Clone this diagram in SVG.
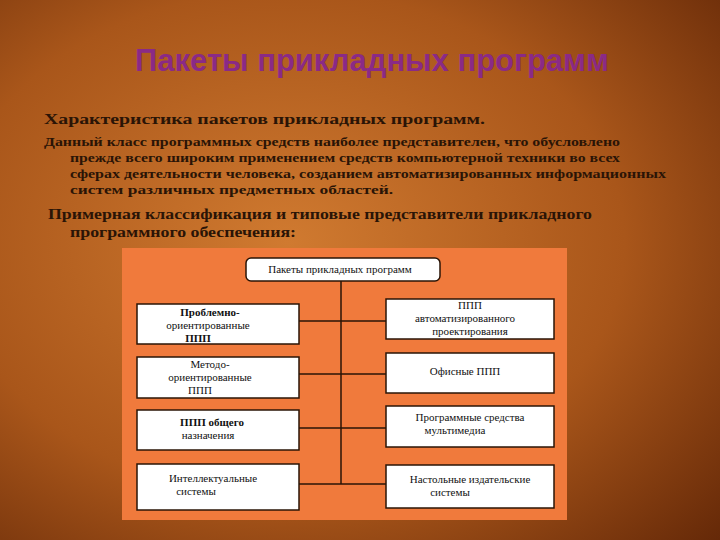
<svg xmlns="http://www.w3.org/2000/svg" width="720" height="540" viewBox="0 0 720 540">
<defs>
<radialGradient id="bg" cx="0.4" cy="0.45" r="0.85">
<stop offset="0" stop-color="#d07a30"/><stop offset="0.55" stop-color="#a9561a"/><stop offset="1" stop-color="#5e2406"/>
</radialGradient>
<style>
.t{font-family:"Liberation Serif",serif;font-weight:bold;fill:#2a1406}
.b{fill:#fff;stroke:#2a1406;stroke-width:1.5}
.n{font-family:"Liberation Serif",serif;font-size:11px;fill:#111;text-anchor:middle}
.c{stroke:#2a1406;stroke-width:1.5;fill:none}
</style>
</defs>
<rect width="720" height="540" fill="url(#bg)"/>
<text x="372" y="71" text-anchor="middle" font-family="Liberation Sans,sans-serif" font-weight="bold" font-size="31" fill="#8a2a86">Пакеты прикладных программ</text>
<text class="t" x="44" y="124" font-size="15" textLength="441" lengthAdjust="spacingAndGlyphs">Характеристика пакетов прикладных программ.</text>
<g class="t" font-size="13">
<text x="44" y="146" textLength="576" lengthAdjust="spacingAndGlyphs">Данный класс программных средств наиболее представителен, что обусловлено</text>
<text x="70" y="162" textLength="550" lengthAdjust="spacingAndGlyphs">прежде всего широким применением средств компьютерной техники во всех</text>
<text x="70" y="178" textLength="596" lengthAdjust="spacingAndGlyphs">сферах деятельности человека, созданием автоматизированных информационных</text>
<text x="70" y="194" textLength="323" lengthAdjust="spacingAndGlyphs">систем различных предметных областей.</text>
</g>
<g class="t" font-size="14">
<text x="48" y="219" textLength="544" lengthAdjust="spacingAndGlyphs">Примерная классификация и типовые представители прикладного</text>
<text x="70" y="237" textLength="226" lengthAdjust="spacingAndGlyphs">программного обеспечения:</text>
</g>
<rect x="122" y="248" width="445" height="272" fill="#f07a3c"/>
<g id="connectors" class="c">
<path d="M341 281V484"/>
<path d="M299 321H386M299 374H386M299 428H386M299 484H386"/>
</g>
<g id="root"><rect class="b" x="246" y="258" width="194" height="23" rx="5"/><text class="n" x="340" y="273">Пакеты прикладных программ</text></g>
<g id="l1"><rect class="b" x="137" y="304" width="162" height="40"/><text class="n" x="210" y="316" font-weight="bold">Проблемно-</text><text class="n" x="208" y="329">ориентированные</text><text class="n" x="198" y="342" font-weight="bold">ППП</text></g>
<g id="l2"><rect class="b" x="137" y="357" width="162" height="41"/><text class="n" x="210" y="368">Методо-</text><text class="n" x="210" y="381">ориентированные</text><text class="n" x="200" y="394">ППП</text></g>
<g id="l3"><rect class="b" x="137" y="410" width="162" height="40"/><text class="n" x="212" y="426" font-weight="bold">ППП общего</text><text class="n" x="208" y="439">назначения</text></g>
<g id="l4"><rect class="b" x="137" y="464" width="162" height="46"/><text class="n" x="213" y="482">Интеллектуальные</text><text class="n" x="196" y="495">системы</text></g>
<g id="r1"><rect class="b" x="386" y="299" width="168" height="40"/><text class="n" x="470" y="309">ППП</text><text class="n" x="465" y="322">автоматизированного</text><text class="n" x="470" y="335">проектирования</text></g>
<g id="r2"><rect class="b" x="386" y="353" width="168" height="40"/><text class="n" x="465" y="375">Офисные ППП</text></g>
<g id="r3"><rect class="b" x="386" y="406" width="168" height="41"/><text class="n" x="470" y="421">Программные средства</text><text class="n" x="455" y="434">мультимедиа</text></g>
<g id="r4"><rect class="b" x="386" y="465" width="168" height="43"/><text class="n" x="470" y="483">Настольные издательские</text><text class="n" x="450" y="496">системы</text></g>
</svg>
